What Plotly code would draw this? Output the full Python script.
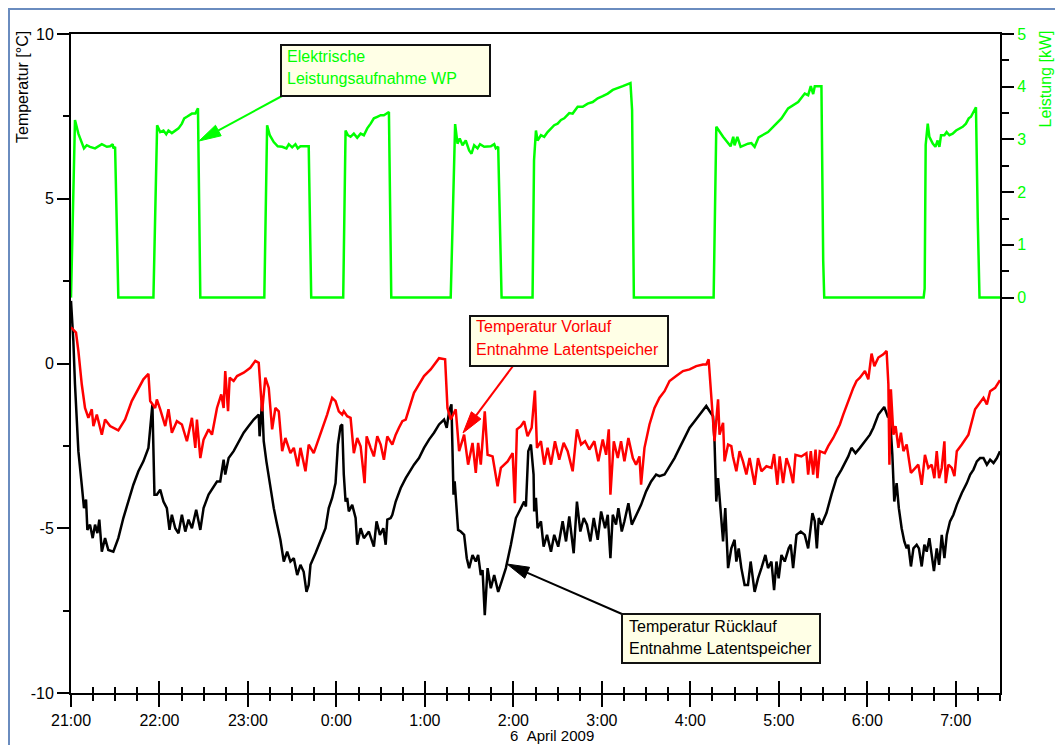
import math
import pandas as pd
import plotly.graph_objects as go

# ---------------- data (minutes after 2009-04-05 21:00) ----------------
red_t = [0, 3.4, 5.0, 7.3, 9.5, 11.8, 14.1, 15.2, 17.5, 20.9, 23.1, 26.5, 32.1, 36.7, 41.2, 45.7, 49.1, 52.5, 53.7, 57.1,
         58.2, 60.5, 63.9, 66.1, 68.4, 71.8, 75.2, 78.6, 82.0, 84.3, 85.4, 87.7, 89.9, 93.3, 95.6, 99.0, 101.9, 103.5,
         104.6, 106.5, 107.6, 110.3, 112.6, 117.1, 121.6, 125.0, 127.3, 129.6, 131.8, 134.1, 136.4, 138.6, 140.9, 143.2,
         145.4, 148.8, 151.1, 153.8, 155.6, 159.0, 161.2, 164.6, 169.2, 173.7, 177.1, 179.4, 181.6, 183.9, 185.0, 187.3,
         189.6, 191.8, 194.1, 196.4, 199.1, 200.5, 203.2, 205.4, 207.7, 210.0, 212.2, 214.5, 217.9, 220.2, 222.4, 224.7,
         227.0, 229.2, 232.6, 236.0, 239.4, 243.9, 247.3, 249.6, 253.7, 255.3, 257.5, 260.9, 263.2, 266.6, 269.3, 272.3,
         274.5, 276.1, 277.9, 280.6, 282.5, 285.9, 289.3, 291.5, 296.1, 299.5, 301.0, 302.4, 305.1, 307.3, 309.6, 312.4,
         314.6, 316.0, 318.7, 320.9, 323.2, 325.5, 328.2, 331.1, 334.1, 336.8, 340.2, 343.1, 345.9, 348.6, 351.5, 354.9,
         357.6, 360.6, 362.9, 364.7, 365.8, 368.1, 370.8, 373.0, 375.3, 378.0, 381.0, 383.2, 385.5, 386.6, 388.9, 392.3,
         395.7, 399.1, 402.5, 405.9, 410.4, 415.0, 419.5, 424.0, 428.6, 430.8, 432.4, 433.7, 436.4, 438.8, 439.8, 442.2,
         443.2, 445.6, 447.8, 448.9, 451.2, 453.4, 455.7, 458.0, 460.2, 463.6, 465.9, 468.2, 471.6, 475.0, 476.8, 479.0,
         480.6, 482.9, 485.2, 487.4, 489.7, 491.3, 495.3, 498.7, 499.9, 501.7, 503.3, 504.9, 506.2, 507.8, 511.2, 513.5,
         516.9, 519.8, 521.4, 523.7, 527.1, 530.5, 532.7, 535.0, 538.4, 540.7, 542.9, 544.8, 547.5, 550.9, 553.1, 554.3,
         555.0, 556.0, 557.7, 559.2, 561.1, 562.8, 564.5, 566.7, 569.6, 572.3, 574.6, 576.9, 579.1, 581.4, 583.7, 585.5,
         587.1, 588.7, 590.5, 592.3, 593.2, 595.0, 597.3, 599.1, 600.7, 604.1, 608.6, 613.1, 616.5, 618.8, 621.1, 623.3,
         626.7, 630]
red_v = [1.10, 0.94, 0.38, -0.63, -1.35, -1.65, -1.39, -1.90, -1.55, -2.16, -1.70, -1.90, -2.03, -1.70, -1.14, -0.74,
         -0.48, -0.31, -1.14, -1.35, -1.09, -1.39, -1.90, -1.39, -2.10, -1.75, -1.85, -2.36, -1.65, -2.56, -1.70, -2.87,
         -2.31, -2.00, -2.16, -1.35, -0.94, -1.35, -0.23, -1.45, -0.43, -0.53, -0.38, -0.28, -0.13, 0.08, 0.02, -1.45,
         -0.43, -0.74, -2.00, -1.35, -1.45, -2.66, -2.26, -2.72, -2.56, -3.12, -2.56, -3.27, -2.46, -2.72, -2.16, -1.55,
         -1.04, -1.14, -1.45, -1.55, -1.45, -1.60, -1.65, -2.72, -2.26, -2.51, -3.63, -2.21, -2.56, -2.82, -2.21, -2.46,
         -2.92, -2.21, -2.46, -2.16, -1.95, -1.75, -1.70, -1.35, -0.89, -0.63, -0.38, -0.18, 0.02, 0.16, 0.13, -1.35,
         -1.70, -1.39, -2.66, -2.16, -3.07, -2.41, -3.32, -2.41, -3.07, -1.45, -2.77, -2.82, -3.73, -3.17, -2.97, -2.72,
         -4.24, -2.00, -1.90, -1.75, -2.21, -1.95, -0.82, -2.56, -2.36, -3.07, -2.56, -3.07, -2.36, -2.92, -2.41, -2.66,
         -3.27, -2.00, -2.46, -2.36, -2.61, -2.36, -2.97, -2.31, -2.77, -2.00, -3.98, -2.36, -2.87, -2.36, -2.97, -2.26,
         -2.87, -3.07, -2.82, -3.68, -2.56, -1.85, -1.35, -1.04, -0.84, -0.53, -0.38, -0.23, -0.18, -0.08, -0.03, -0.03,
         0.13, -0.63, -2.36, -1.09, -2.16, -1.80, -2.97, -2.46, -2.51, -2.82, -3.27, -2.66, -2.97, -3.37, -2.87, -3.68,
         -2.87, -3.27, -3.12, -3.17, -2.75, -3.68, -2.82, -3.63, -2.87, -3.17, -3.63, -2.77, -2.82, -2.72, -3.37, -2.66,
         -3.37, -2.61, -3.48, -2.66, -2.72, -2.51, -2.26, -2.00, -1.85, -1.55, -1.14, -0.74, -0.53, -0.43, -0.23, -0.48,
         0.30, -0.08, 0.18, 0.28, 0.38, -0.63, -3.07, -0.78, -2.16, -1.90, -2.56, -2.10, -2.66, -2.46, -3.32, -3.17,
         -3.07, -3.68, -2.77, -3.17, -3.07, -3.48, -2.66, -3.48, -3.17, -2.36, -3.63, -3.07, -3.17, -3.42, -2.66, -2.46,
         -2.16, -1.39, -1.19, -1.04, -1.24, -0.84, -0.74, -0.51]

black_t = [0, 0.5, 1.6, 2.7, 5.0, 7.3, 8.8, 10.2, 11.1, 12.9, 14.7, 16.3, 17.9, 19.2, 20.9, 23.1, 25.3, 28.7, 32.1, 35.5,
           38.9, 42.3, 45.7, 49.1, 52.5, 54.2, 55.2, 56.6, 58.2, 60.5, 62.7, 65.0, 66.8, 68.4, 70.7, 72.9, 75.2, 77.5,
           79.7, 82.0, 84.9, 87.7, 89.9, 93.3, 96.7, 99.0, 101.2, 103.5, 104.6, 106.9, 110.3, 113.7, 117.1, 120.5, 123.9,
           127.3, 127.9, 129.6, 130.7, 132.5, 135.2, 137.5, 139.3, 142.0, 144.3, 146.6, 148.8, 151.1, 153.4, 155.6,
           157.8, 159.7, 161.2, 162.4, 165.8, 169.2, 172.6, 174.8, 177.1, 179.4, 181.0, 182.8, 183.9, 185.0, 186.2,
           187.3, 188.4, 190.7, 193.0, 194.1, 196.4, 198.6, 202.0, 205.4, 207.2, 209.5, 211.8, 213.4, 214.5, 216.8,
           217.9, 220.2, 223.6, 227.0, 230.4, 232.6, 236.0, 239.4, 242.8, 246.2, 249.6, 253.0, 254.8, 256.4, 258.0,
           259.4, 260.2, 262.5, 264.3, 266.6, 268.4, 270.0, 272.3, 274.5, 276.1, 277.9, 279.1, 280.6, 282.5, 284.7,
           287.0, 289.7, 292.0, 294.9, 298.3, 301.7, 305.1, 307.3, 308.5, 310.1, 311.9, 313.7, 314.1, 315.3, 316.4,
           318.7, 320.5, 322.8, 325.5, 327.7, 330.4, 333.4, 335.7, 337.9, 340.9, 343.1, 345.4, 347.7, 349.9, 352.2,
           354.5, 357.2, 359.5, 362.2, 364.0, 365.8, 367.4, 369.6, 371.2, 373.5, 375.3, 378.0, 380.3, 383.2, 386.6,
           390.0, 393.4, 396.8, 399.1, 402.5, 405.9, 409.3, 412.7, 416.1, 419.5, 422.9, 426.3, 430.8, 433.1, 435.4,
           436.4, 437.6, 438.8, 440.5, 442.2, 443.7, 445.6, 447.8, 450.0, 451.2, 452.8, 454.6, 456.8, 459.1, 460.9,
           463.6, 465.9, 468.2, 470.9, 472.7, 475.0, 476.8, 478.4, 479.9, 481.8, 484.0, 486.7, 488.1, 489.7, 492.0,
           494.9, 497.6, 499.9, 502.8, 504.4, 505.8, 507.1, 508.9, 512.3, 515.7, 519.1, 522.5, 527.1, 529.3, 532.0,
           535.0, 538.4, 541.8, 544.1, 547.5, 551.5, 553.8, 555.3, 557.0, 558.3, 559.9, 561.4, 563.3, 565.1, 566.7,
           567.8, 569.6, 571.3, 573.5, 575.0, 576.9, 578.7, 580.3, 582.1, 583.7, 585.2, 587.1, 588.7, 590.5, 592.3,
           593.9, 596.1, 598.4, 600.7, 604.1, 607.5, 609.8, 612.0, 614.3, 616.5, 618.8, 621.1, 623.3, 625.6, 627.9, 630]
black_v = [1.90, 1.60, 0.68, -0.63, -2.66, -3.68, -4.39, -4.13, -5.05, -4.89, -5.30, -4.89, -5.15, -4.74, -5.71, -5.30,
           -5.66, -5.71, -5.30, -4.69, -4.19, -3.68, -3.27, -2.97, -2.56, -1.75, -1.24, -3.98, -3.98, -3.83, -4.19,
           -4.39, -5.05, -4.59, -5.00, -5.15, -4.59, -5.10, -4.74, -5.00, -4.44, -5.05, -4.39, -3.98, -3.73, -3.58,
           -3.58, -2.92, -3.37, -2.87, -2.66, -2.36, -2.10, -1.90, -1.70, -1.55, -2.21, -1.14, -2.36, -2.97, -3.78,
           -4.39, -4.79, -5.35, -6.01, -5.71, -6.01, -5.91, -6.42, -6.11, -6.32, -6.93, -6.72, -6.11, -5.76, -5.40,
           -5.00, -4.39, -4.08, -3.63, -2.46, -1.90, -1.85, -3.37, -4.19, -4.08, -4.49, -4.29, -4.69, -5.50, -5.00,
           -5.30, -5.10, -5.56, -4.79, -5.20, -5.00, -5.50, -4.74, -4.69, -4.59, -4.19, -3.78, -3.48, -3.22, -3.07,
           -2.87, -2.56, -2.31, -2.10, -1.85, -1.70, -1.95, -1.45, -1.24, -3.98, -3.58, -5.05, -5.10, -5.20, -5.91,
           -6.21, -5.81, -6.01, -5.81, -6.42, -6.27, -7.64, -6.21, -6.82, -6.42, -6.93, -6.62, -6.21, -5.50, -4.69,
           -4.39, -4.19, -4.34, -2.66, -2.46, -3.37, -4.49, -4.08, -5.00, -4.79, -5.56, -5.20, -5.71, -5.20, -5.56,
           -4.79, -5.40, -4.64, -5.76, -4.19, -5.10, -4.69, -4.89, -5.40, -4.69, -5.35, -4.49, -5.00, -4.59, -5.91,
           -4.59, -4.89, -4.39, -5.10, -4.79, -4.24, -4.89, -4.59, -4.29, -3.88, -3.58, -3.37, -3.42, -3.37, -3.12,
           -2.87, -2.56, -2.26, -1.95, -1.75, -1.55, -1.29, -1.45, -1.60, -2.36, -4.19, -3.48, -4.39, -5.40, -4.39,
           -6.21, -5.61, -5.35, -6.01, -5.61, -6.21, -6.72, -6.72, -6.01, -6.93, -6.52, -6.21, -5.81, -6.21, -6.01,
           -6.88, -6.01, -6.52, -5.81, -6.01, -5.61, -5.50, -6.21, -5.20, -5.10, -5.20, -5.61, -4.54, -4.79, -5.61,
           -4.69, -4.89, -4.54, -3.98, -3.48, -3.22, -2.82, -2.56, -2.72, -2.56, -2.36, -2.16, -1.95, -1.55, -1.32,
           -1.60, -1.55, -2.77, -4.19, -3.63, -4.39, -5.00, -5.40, -5.61, -5.50, -6.16, -5.61, -5.50, -5.61, -6.16,
           -5.50, -5.71, -5.30, -5.81, -6.30, -5.61, -6.11, -5.20, -5.91, -5.20, -4.79, -4.59, -4.29, -3.93, -3.63,
           -3.37, -3.22, -2.97, -2.87, -2.87, -3.07, -2.92, -3.02, -2.87, -2.66]

green_t = [0, 1.5, 2.7, 5.0, 7.3, 8.8, 10.7, 12.9, 16.3, 20.9, 24.3, 26.5, 28.3, 28.7, 29.9, 32.1, 55.9, 58.0, 58.4, 60.5,
           62.7, 64.6, 66.1, 68.4, 70.7, 72.9, 75.2, 76.8, 78.6, 80.4, 82.0, 84.3, 85.4, 86.1, 87.7, 131.1, 133.0, 134.8,
           137.5, 140.2, 143.2, 146.1, 147.7, 150.0, 152.2, 153.8, 155.6, 161.2, 162.9, 184.6, 186.2, 187.8, 189.6,
           191.8, 194.1, 196.4, 198.6, 200.9, 203.2, 205.4, 207.7, 210.0, 212.2, 214.0, 215.6, 217.2, 257.5, 260.5,
           262.1, 263.6, 265.5, 267.7, 270.0, 271.6, 273.4, 275.7, 277.4, 280.2, 284.7, 287.0, 288.1, 289.7, 292.0,
           313.0, 314.0, 315.3, 316.4, 318.7, 320.9, 323.2, 325.5, 327.7, 330.0, 332.3, 334.5, 337.9, 340.2, 343.6,
           347.0, 350.4, 353.8, 357.2, 360.6, 364.0, 367.4, 370.8, 374.2, 377.6, 379.4, 380.5, 381.7, 435.8, 437.6,
           442.2, 447.3, 449.1, 450.0, 451.9, 454.1, 459.1, 461.4, 463.6, 466.3, 472.7, 476.1, 481.8, 486.3, 493.1,
           497.6, 499.9, 501.7, 503.3, 504.4, 508.9, 510.1, 510.8, 578.2, 578.9, 579.6, 581.0, 582.1, 584.4, 586.2,
           587.7, 588.9, 590.0, 592.3, 593.8, 595.7, 597.9, 600.2, 602.4, 604.7, 606.9, 608.8, 610.3, 612.0, 613.7,
           614.9, 616.1, 630]
green_v = [0.0, 2.0, 3.37, 3.11, 2.92, 2.83, 2.89, 2.86, 2.83, 2.91, 2.86, 2.87, 2.91, 2.83, 2.86, 0.0, 0.0, 3.1, 3.27,
           3.14, 3.17, 3.10, 3.17, 3.12, 3.17, 3.21, 3.30, 3.40, 3.43, 3.46, 3.49, 3.49, 3.55, 3.59, 0.0, 0.0, 3.27,
           3.08, 2.95, 2.87, 2.86, 2.83, 2.91, 2.85, 2.91, 2.83, 2.87, 2.87, 0.0, 0.0, 3.17, 3.08, 3.05, 3.11, 3.03,
           3.11, 3.08, 3.21, 3.30, 3.40, 3.43, 3.46, 3.46, 3.49, 3.52, 0.0, 0.0, 3.29, 2.92, 3.02, 2.89, 2.98, 2.79,
           2.73, 2.89, 2.83, 2.91, 2.86, 2.87, 2.91, 2.83, 2.86, 0.0, 0.0, 2.6, 3.17, 2.98, 3.08, 3.05, 3.14, 3.21,
           3.27, 3.30, 3.37, 3.40, 3.50, 3.49, 3.62, 3.62, 3.68, 3.71, 3.78, 3.82, 3.87, 3.94, 3.97, 4.01, 4.05, 4.07,
           3.56, 0.0, 0.0, 3.24, 3.05, 2.87, 3.05, 2.89, 3.05, 2.86, 2.92, 2.93, 2.86, 3.04, 3.14, 3.24, 3.40, 3.59,
           3.71, 3.87, 3.84, 4.01, 3.86, 4.01, 4.01, 0.70, 0.0, 0.0, 0.17, 2.9, 3.30, 3.05, 2.92, 2.86, 2.98, 2.86,
           3.08, 3.08, 3.14, 3.08, 3.11, 3.17, 3.21, 3.24, 3.30, 3.40, 3.43, 3.52, 3.61, 1.5, 0.0, 0.0]

temp_ticks = [-10, -5, 0, 5, 10]
temp_minor = [-7.5, -2.5, 2.5, 7.5]
power_ticks = [0, 1, 2, 3, 4, 5]
power_minor = [0.5, 1.5, 2.5, 3.5, 4.5]

START = pd.Timestamp("2009-04-05 21:00")
END = pd.Timestamp("2009-04-06 07:30")


def to_time(mins):
    return START + pd.to_timedelta(mins, unit="min")


# ---------------- layout geometry (pixels) ----------------
WIDTH, HEIGHT = 1055, 745
ML, MR, MT, MB = 71, 55, 34, 52
PW = WIDTH - ML - MR
PH = HEIGHT - MT - MB


def px(xp):
    return (xp - ML) / PW


def py(yp):
    return (HEIGHT - MB - yp) / PH


FONT = "Liberation Sans, Arial, Helvetica, sans-serif"
GREEN = "#00ff00"
RED = "#ff0000"
CREAM = "#ffffe6"

fig = go.Figure()
fig.add_trace(go.Scatter(x=to_time(black_t), y=black_v, mode="lines",
                         line=dict(color="black", width=2.5), name="Rücklauf", showlegend=False))
fig.add_trace(go.Scatter(x=to_time(red_t), y=red_v, mode="lines",
                         line=dict(color=RED, width=2.5), name="Vorlauf", showlegend=False))
fig.add_trace(go.Scatter(x=to_time(green_t), y=green_v, mode="lines", yaxis="y2",
                         line=dict(color=GREEN, width=2.5), name="Leistung", showlegend=False))
# helper trace so the overlaid x axis (inner ticks) is drawn
fig.add_trace(go.Scatter(x=[START, END], y=[None, None], xaxis="x2", mode="lines",
                         showlegend=False, hoverinfo="skip"))

xcommon = dict(type="date", range=[START, END], dtick=3600000, tick0=START,
               tickcolor="black", tickwidth=2, ticklen=12, showgrid=False, zeroline=False,
               minor=dict(dtick=900000, tick0=START, ticklen=6, tickwidth=2, tickcolor="black",
                          showgrid=False))
fig.update_layout(
    width=WIDTH, height=HEIGHT,
    margin=dict(l=ML, r=MR, t=MT, b=MB, pad=0),
    paper_bgcolor="white", plot_bgcolor="white",
    font=dict(family=FONT, size=16, color="black"),
    showlegend=False,
    xaxis=dict(**xcommon, ticks="outside", tickformat="%-H:%M", showline=True, linecolor="black",
               linewidth=2, mirror=True, tickfont=dict(size=16, color="black"),
               minor_ticks="outside"),
    xaxis2=dict(**xcommon, ticks="inside", overlaying="x", anchor="y", showticklabels=False,
                showline=False, minor_ticks="inside"),
    yaxis=dict(range=[-10, 10], tickmode="array", tickvals=temp_ticks,
               ticktext=[str(v) for v in temp_ticks], ticks="outside", ticklen=12, tickwidth=2,
               tickcolor="black", showline=True, linecolor="black", linewidth=2, showgrid=False,
               zeroline=False, tickfont=dict(size=16, color="black"),
               minor=dict(tickmode="array", tickvals=temp_minor, ticks="outside", ticklen=6,
                          tickwidth=2, tickcolor="black", showgrid=False)),
    yaxis2=dict(range=[-7.5, 5], overlaying="y", side="right", anchor="x", tickmode="array",
                tickvals=power_ticks, ticktext=[str(v) for v in power_ticks], ticks="outside",
                ticklen=12, tickwidth=2, tickcolor="black", showline=True, linecolor="black",
                linewidth=2, showgrid=False, zeroline=False, tickfont=dict(size=16, color=GREEN),
                minor=dict(tickmode="array", tickvals=power_minor, ticks="outside", ticklen=7,
                           tickwidth=2, tickcolor="black", showgrid=False)),
)

annotations = []
shapes = []

# outer frame
shapes.append(dict(type="rect", xref="paper", yref="paper", x0=px(9), x1=px(1070), y0=py(9), y1=py(760),
                   line=dict(color="#6a8cbf", width=2), fillcolor="rgba(0,0,0,0)", layer="below"))

# axis titles
annotations.append(dict(text="Temperatur [°C]", xref="paper", yref="paper", x=px(22), y=py(29),
                        xanchor="center", yanchor="top", textangle=-90, showarrow=False,
                        font=dict(size=16, color="black")))
annotations.append(dict(text="Leistung [kW]", xref="paper", yref="paper", x=px(1045), y=py(29),
                        xanchor="center", yanchor="top", textangle=-90, showarrow=False,
                        font=dict(size=16, color=GREEN)))
annotations.append(dict(text="6\u00a0\u00a0April 2009", xref="paper", yref="paper", x=px(552), y=py(735),
                        xanchor="center", yanchor="middle", showarrow=False,
                        font=dict(size=15, color="black")))


def label_box(x0, y0, x1, y1, lines, color, tx, ty_list):
    shapes.append(dict(type="rect", xref="paper", yref="paper", x0=px(x0), x1=px(x1), y0=py(y0), y1=py(y1),
                       line=dict(color="#111111", width=2), fillcolor=CREAM, layer="above"))
    for text, ty in zip(lines, ty_list):
        annotations.append(dict(text=text, xref="paper", yref="paper", x=px(tx), y=py(ty),
                                xanchor="left", yanchor="middle", showarrow=False,
                                font=dict(size=16, color=color)))


def arrow(x0, y0, x1, y1, color, head_len=22, head_half=6):
    dx, dy = x1 - x0, y1 - y0
    L = math.hypot(dx, dy)
    ux, uy = dx / L, dy / L
    bx, by = x1 - ux * head_len, y1 - uy * head_len
    nx, ny = -uy, ux
    shapes.append(dict(type="line", xref="paper", yref="paper", x0=px(x0), y0=py(y0), x1=px(bx + ux * 4),
                       y1=py(by + uy * 4), line=dict(color=color, width=2), layer="above"))
    p1 = (px(x1), py(y1))
    p2 = (px(bx + nx * head_half), py(by + ny * head_half))
    p3 = (px(bx - nx * head_half), py(by - ny * head_half))
    path = f"M {p1[0]} {p1[1]} L {p2[0]} {p2[1]} L {p3[0]} {p3[1]} Z"
    shapes.append(dict(type="path", xref="paper", yref="paper", path=path, fillcolor=color,
                       line=dict(color=color, width=1), layer="above"))


arrow(282, 96, 199, 141, GREEN)
label_box(281, 45, 490, 96, ["Elektrische", "Leistungsaufnahme WP"], GREEN, 285, [57, 78])

arrow(513, 366, 463, 433, RED)
label_box(470, 316, 668, 366, ["Temperatur Vorlauf", "Entnahme Latentspeicher"], RED, 474, [327, 349])

arrow(622, 614, 507, 564, "black")
label_box(622, 614, 820, 663, ["Temperatur Rücklauf", "Entnahme Latentspeicher"], "black", 627, [626, 648])

fig.update_layout(annotations=annotations, shapes=shapes)

fig.write_html("out.html", config={"displayModeBar": False},
               post_script="document.body.style.margin='0px';")
